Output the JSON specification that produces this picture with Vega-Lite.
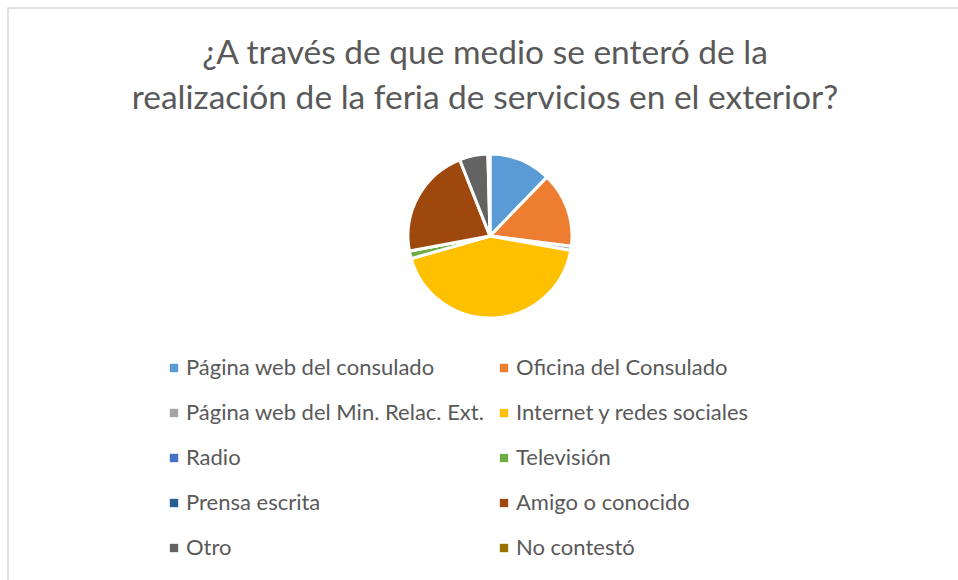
{
  "$schema": "https://vega.github.io/schema/vega-lite/v6.json",
  "autosize": "none",
  "width": 954,
  "height": 576,
  "padding": {"left": 8, "top": 8, "right": -4, "bottom": -4},
  "background": "white",
  "view": {"stroke": "#d9d9d9", "strokeWidth": 1.5, "fill": "white"},
  "config": {
    "font": "Lato"
  },
  "title": {
    "text": ["¿A través de que medio se enteró de la", "realización de la feria de servicios en el exterior?"],
    "fontSize": 33.5,
    "font": "Lato",
    "fontWeight": "normal",
    "color": "#595959",
    "lineHeight": 45,
    "anchor": "middle",
    "offset": -108
  },
  "data": {
    "values": [
      {"medio": "Página web del consulado", "valor": 12, "orden": 1},
      {"medio": "Oficina del Consulado", "valor": 14.5, "orden": 2},
      {"medio": "Página web del Min. Relac. Ext.", "valor": 0.8, "orden": 3},
      {"medio": "Internet y redes sociales", "valor": 42, "orden": 4},
      {"medio": "Radio", "valor": 0, "orden": 5},
      {"medio": "Televisión", "valor": 1.5, "orden": 6},
      {"medio": "Prensa escrita", "valor": 0, "orden": 7},
      {"medio": "Amigo o conocido", "valor": 21.5, "orden": 8},
      {"medio": "Otro", "valor": 5.5, "orden": 9},
      {"medio": "No contestó", "valor": 0.4, "orden": 10}
    ]
  },
  "mark": {
    "type": "arc",
    "outerRadius": 82,
    "stroke": "white",
    "strokeWidth": 3,
    "x": {"expr": "width/2 + 5"},
    "y": {"expr": "height*0.396"}
  },
  "encoding": {
    "theta": {"field": "valor", "type": "quantitative", "stack": true},
    "order": {"field": "orden", "type": "quantitative"},
    "color": {
      "field": "medio",
      "type": "nominal",
      "scale": {
        "domain": ["Página web del consulado", "Oficina del Consulado", "Página web del Min. Relac. Ext.", "Internet y redes sociales", "Radio", "Televisión", "Prensa escrita", "Amigo o conocido", "Otro", "No contestó"],
        "range": ["#5B9BD5", "#ED7D31", "#A5A5A5", "#FFC000", "#4472C4", "#70AD47", "#255E91", "#9E480E", "#636363", "#997300"]
      },
      "legend": {
        "title": null,
        "orient": "none",
        "legendX": 155,
        "legendY": 349,
        "columns": 2,
        "direction": "horizontal",
        "symbolType": "square",
        "symbolSize": 70,
        "symbolStrokeWidth": 0,
        "labelFont": "Lato",
        "labelFontSize": 22,
        "labelColor": "#595959",
        "labelLimit": 400,
        "labelOffset": 1,
        "rowPadding": 23,
        "columnPadding": 8
      }
    }
  }
}
